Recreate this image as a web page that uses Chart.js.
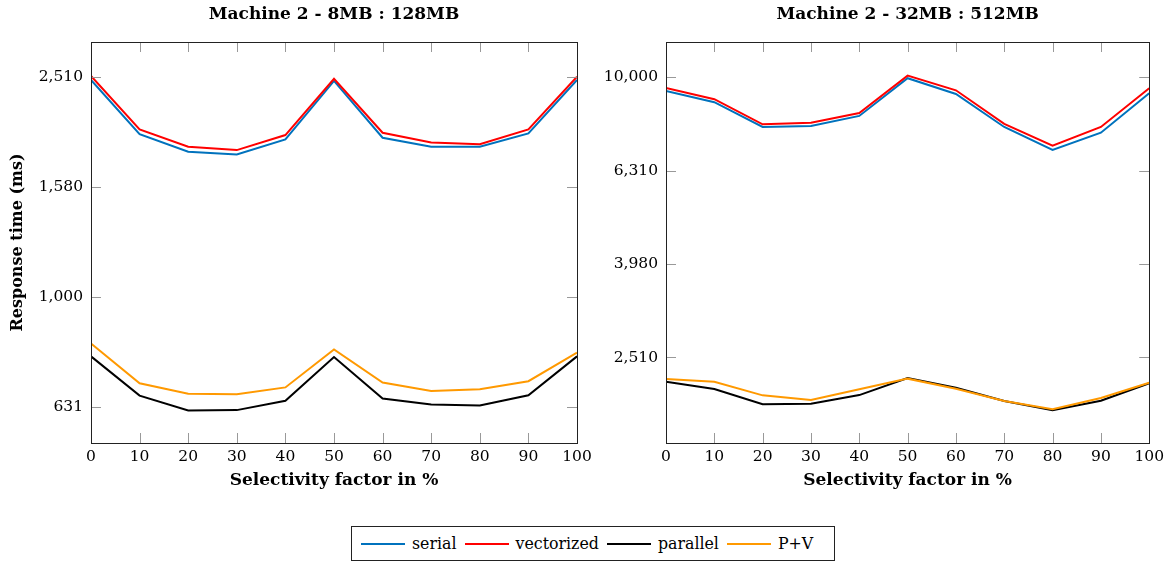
<!DOCTYPE html>
<html>
<head>
<meta charset="utf-8">
<script src="https://cdn.jsdelivr.net/npm/chart.js@4.4.1/dist/chart.umd.min.js"></script>
<style>
  body { margin: 0; background: #fff; width: 1169px; height: 567px; position: relative; overflow: hidden; font-family: "DejaVu Serif", serif; }
  canvas { position: absolute; top: 0; }
  #chartA { left: 0; }
  #chartB { left: 584px; }
  .legend { position: absolute; left: 351px; top: 526px; width: 484px; height: 35px; border: 1px solid #222; box-sizing: border-box; display: flex; align-items: center; padding-left: 9px; font-size: 15.8px; color: #000; }
  .legend .swatch { display: inline-block; width: 44px; height: 2px; margin-right: 7px; }
  .legend .item { display: flex; align-items: center; margin-right: 8px; }
</style>
</head>
<body>
<canvas id="chartA" width="600" height="500"></canvas>
<canvas id="chartB" width="585" height="500"></canvas>
<div class="legend" id="legend"></div>
<script>
const selectivity = [0, 10, 20, 30, 40, 50, 60, 70, 80, 90, 100];

// Machine 2 - 8MB : 128MB
const serialA = [2476, 1975, 1834, 1814, 1932, 2466, 1945, 1873, 1873, 1981, 2476];
const vectorA = [2518, 2014, 1873, 1847, 1967, 2489, 1986, 1907, 1893, 2014, 2510];
const parallelA = [780, 662, 622, 623, 648, 778, 654, 638, 635, 663, 780];
const pvA = [823, 697, 667, 666, 685, 803, 699, 675, 680, 703, 792];

// Machine 2 - 32MB : 512MB
const serialB = [9347, 8841, 7826, 7864, 8264, 9952, 9209, 7826, 6986, 7609, 9241];
const vectorB = [9486, 8975, 7930, 7992, 8386, 10079, 9377, 7943, 7136, 7826, 9471];
const parallelB = [2227, 2148, 1992, 1998, 2085, 2268, 2162, 2025, 1934, 2028, 2210];
const pvB = [2257, 2227, 2082, 2035, 2145, 2261, 2151, 2025, 1944, 2055, 2216];

const yTicksA = [631, 1000, 1580, 2510];
const yTicksB = [2510, 3980, 6310, 10000];
const yRangeA = [543, 2902];
const yRangeB = [1646, 11900];

const seriesNames = ["serial", "vectorized", "parallel", "P+V"];
const seriesColors = ["#0072bd", "#ff0000", "#000000", "#ff9900"];

const FONT = "DejaVu Serif";
Chart.defaults.color = "#000";

// box around the plot area with pgfplots-style inward ticks on all four sides
const frameTicks = {
  id: "frameTicks",
  afterDatasetsDraw(chart) {
    const { ctx, chartArea: a, scales: { x, y } } = chart;
    const len = 10;
    ctx.save();
    ctx.strokeStyle = "#999";
    ctx.lineWidth = 1;
    ctx.beginPath();
    x.ticks.forEach((t) => {
      const px = Math.round(x.getPixelForValue(t.value)) + 0.5;
      ctx.moveTo(px, a.top);
      ctx.lineTo(px, a.top + len);
      ctx.moveTo(px, a.bottom);
      ctx.lineTo(px, a.bottom - len);
    });
    y.ticks.forEach((t) => {
      const py = Math.round(y.getPixelForValue(t.value)) + 0.5;
      ctx.moveTo(a.left, py);
      ctx.lineTo(a.left + len, py);
      ctx.moveTo(a.right, py);
      ctx.lineTo(a.right - len, py);
    });
    ctx.stroke();
    ctx.strokeStyle = "#222";
    ctx.strokeRect(Math.round(a.left) + 0.5, Math.round(a.top) + 0.5, Math.round(a.width), Math.round(a.height));
    ctx.restore();
  },
};

const makeChart = (id, title, values, yTicks, yRange, yWidth, padRight, yTitle) => {
  const order = [3, 2, 1, 0];
  new Chart(document.getElementById(id), {
    type: "line",
    data: {
      labels: selectivity,
      datasets: values.map((v, i) => ({
        label: seriesNames[i],
        data: selectivity.map((s, j) => ({ x: s, y: v[j] })),
        borderColor: seriesColors[i],
        backgroundColor: seriesColors[i],
        borderWidth: 2,
        pointRadius: 0,
        tension: 0,
        order: order[i],
      })),
    },
    options: {
      responsive: false,
      animation: false,
      layout: { padding: { left: 0, right: padRight, top: 0, bottom: 0 } },
      plugins: {
        legend: { display: false },
        tooltip: { enabled: false },
        title: {
          display: true,
          fullSize: false,
          text: title,
          font: { family: FONT, size: 17, weight: "bold" },
          padding: { top: 4, bottom: 17.6 },
        },
      },
      scales: {
        x: {
          type: "linear",
          min: 0,
          max: 100,
          grid: { display: false, drawTicks: false },
          border: { display: false },
          ticks: { stepSize: 10, autoSkip: false, maxRotation: 0, padding: 5, font: { family: FONT, size: 15.5 } },
          title: {
            display: true,
            text: "Selectivity factor in %",
            font: { family: FONT, size: 17, weight: "bold" },
            padding: { top: 0, bottom: 9 },
          },
          afterFit: (scale) => { scale.height = 57; },
        },
        y: {
          type: "logarithmic",
          min: yRange[0],
          max: yRange[1],
          grid: { display: false, drawTicks: false },
          border: { display: false },
          ticks: {
            padding: 8,
            font: { family: FONT, size: 15.5 },
            callback: (v) => Number(v).toLocaleString("en-US"),
          },
          afterBuildTicks: (scale) => { scale.ticks = yTicks.map((v) => ({ value: v })); },
          title: {
            display: yTitle,
            text: "Response time (ms)",
            font: { family: FONT, size: 16, weight: "bold" },
            padding: { top: 8.5, bottom: 0 },
          },
          afterFit: (scale) => { scale.width = yWidth; },
        },
      },
    },
    plugins: [frameTicks],
  });
};

makeChart("chartA", "Machine 2 - 8MB : 128MB", [serialA, vectorA, parallelA, pvA], yTicksA, yRangeA, 91, 23, true);
makeChart("chartB", "Machine 2 - 32MB : 512MB", [serialB, vectorB, parallelB, pvB], yTicksB, yRangeB, 82, 18, false);

// legend row under both plots
const legend = document.getElementById("legend");
seriesNames.forEach((name, i) => {
  const item = document.createElement("span");
  item.className = "item";
  const sw = document.createElement("span");
  sw.className = "swatch";
  sw.style.background = seriesColors[i];
  item.appendChild(sw);
  item.appendChild(document.createTextNode(name));
  legend.appendChild(item);
});
</script>
</body>
</html>
